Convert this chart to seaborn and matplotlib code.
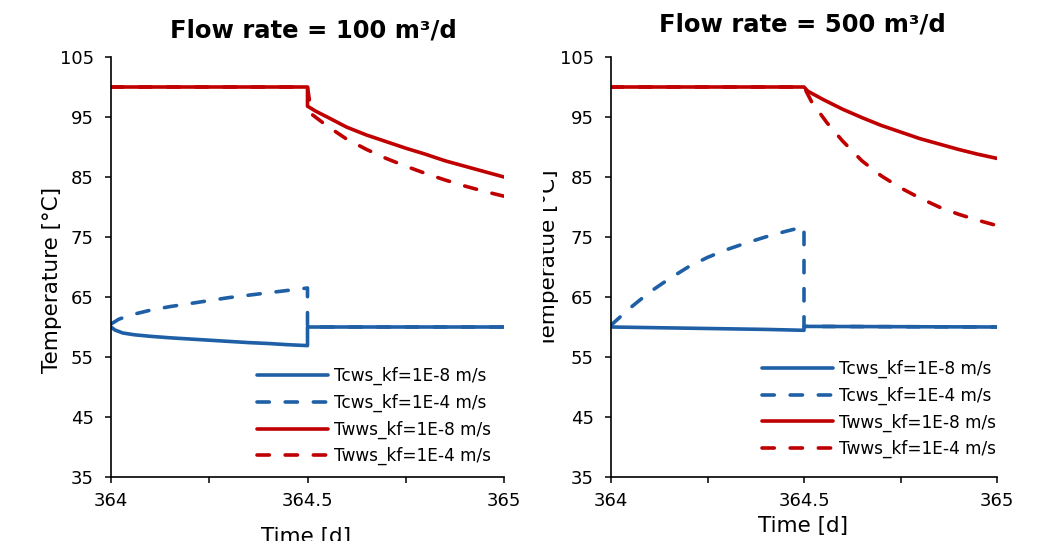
import numpy as np
import pandas as pd
import matplotlib
matplotlib.use("Agg")
import matplotlib.pyplot as plt
import seaborn as sns
from matplotlib.transforms import Bbox, TransformedBbox

# ---------- data ----------
# Flow rate = 100 m3/d
q100_tcws_8_t = [364, 364.01, 364.03, 364.06, 364.1, 364.15, 364.2, 364.25, 364.3, 364.35, 364.4, 364.45, 364.5, 364.5, 365]
q100_tcws_8_v = [60, 59.5, 59.0, 58.7, 58.45, 58.2, 58.0, 57.8, 57.6, 57.4, 57.25, 57.05, 56.9, 60, 60]
q100_tcws_4_t = [364, 364.02, 364.05, 364.1, 364.15, 364.2, 364.25, 364.3, 364.35, 364.4, 364.45, 364.5, 364.5, 365]
q100_tcws_4_v = [60.5, 61.3, 62.0, 62.8, 63.4, 63.9, 64.4, 64.9, 65.3, 65.7, 66.1, 66.5, 60, 60]
q100_twws_8_t = [364, 364.5, 364.5, 364.52, 364.55, 364.6, 364.65, 364.7, 364.75, 364.8, 364.85, 364.9, 364.95, 365]
q100_twws_8_v = [100, 100, 96.8, 96.0, 95.0, 93.3, 92.0, 90.9, 89.8, 88.8, 87.7, 86.8, 85.9, 85.0]
q100_twws_4_t = [364, 364.5, 364.51, 364.55, 364.6, 364.65, 364.7, 364.75, 364.8, 364.85, 364.9, 364.95, 365]
q100_twws_4_v = [100, 100, 95.5, 93.5, 91.3, 89.6, 88.1, 86.8, 85.6, 84.5, 83.5, 82.6, 81.8]

# Flow rate = 500 m3/d
q500_tcws_8_t = [364, 364.1, 364.2, 364.3, 364.4, 364.5, 364.5, 365]
q500_tcws_8_v = [60.0, 59.9, 59.8, 59.7, 59.6, 59.45, 60.1, 60.0]
q500_tcws_4_t = [364, 364.05, 364.1, 364.15, 364.2, 364.25, 364.3, 364.35, 364.4, 364.45, 364.5, 364.5, 365]
q500_tcws_4_v = [60.3, 63.2, 65.8, 68.0, 70.0, 71.6, 72.9, 74.0, 75.0, 75.9, 76.7, 60.1, 60.0]
q500_twws_8_t = [364, 364.5, 364.51, 364.55, 364.6, 364.65, 364.7, 364.75, 364.8, 364.85, 364.9, 364.95, 365]
q500_twws_8_v = [100, 100, 99.3, 97.9, 96.3, 94.9, 93.6, 92.5, 91.4, 90.5, 89.6, 88.8, 88.1]
q500_twws_4_t = [364, 364.5, 364.52, 364.56, 364.6, 364.65, 364.7, 364.75, 364.8, 364.85, 364.9, 364.95, 365]
q500_twws_4_v = [100, 100, 97.5, 94.0, 91.0, 87.7, 85.2, 83.2, 81.5, 80.0, 78.8, 77.8, 76.9]

labels = ["Tcws_kf=1E-8 m/s", "Tcws_kf=1E-4 m/s", "Twws_kf=1E-8 m/s", "Twws_kf=1E-4 m/s"]
titles = ["Flow rate = 100 m³/d", "Flow rate = 500 m³/d"]
ylabels = ["Temperature [°C]", "Temperatue [°C]"]

panels = [
    [(q100_tcws_8_t, q100_tcws_8_v), (q100_tcws_4_t, q100_tcws_4_v),
     (q100_twws_8_t, q100_twws_8_v), (q100_twws_4_t, q100_twws_4_v)],
    [(q500_tcws_8_t, q500_tcws_8_v), (q500_tcws_4_t, q500_tcws_4_v),
     (q500_twws_8_t, q500_twws_8_v), (q500_twws_4_t, q500_twws_4_v)],
]

BLUE = "#1f5fa6"
RED = "#c00000"
colors = [BLUE, BLUE, RED, RED]
dash = (0, (3.4, 4.4))
styles = ["-", dash, "-", dash]

sns.set_style("ticks")
plt.rcParams["font.family"] = ["DejaVu Sans"]
plt.rcParams.update({"text.color": "black", "axes.labelcolor": "black",
                     "xtick.color": "black", "ytick.color": "black"})

fig = plt.figure(figsize=(10.5, 5.41), dpi=100)
ax_rects = [
    [111 / 1050, 64 / 541, 393 / 1050, 420 / 541],
    [611 / 1050, 64 / 541, 386 / 1050, 420 / 541],
]
title_pos = [(0.514, 1.062), (0.497, 1.077)]
xlab_pos = [(0.496, -0.118), (0.497, -0.092)]
ylab_pos = [(-0.125, 0.469), (-0.135, 0.52)]
leg_pos = [(0.371, 0.262), (0.391, 0.279)]

for i, series in enumerate(panels):
    ax = fig.add_axes(ax_rects[i])
    for (t, v), lab, c, ls in zip(series, labels, colors, styles):
        df = pd.DataFrame({"t": t, "v": v})
        sns.lineplot(data=df, x="t", y="v", ax=ax, color=c, linestyle=ls,
                     linewidth=2.6, label=lab, estimator=None, sort=False,
                     dash_capstyle="round", solid_capstyle="round")

    ax.set_xlim(364, 365)
    ax.set_ylim(35, 105)
    ax.set_xticks([364, 364.5, 365])
    ax.set_xticklabels(["364", "364.5", "365"])
    ax.set_xticks([364.25, 364.75], minor=True)
    ax.set_yticks(np.arange(35, 106, 10))
    ax.tick_params(axis="both", which="both", direction="out", length=4.5,
                   width=1.1, labelsize=13)
    ax.tick_params(axis="x", pad=6)
    ax.tick_params(axis="y", pad=8)
    for s in ["top", "right"]:
        ax.spines[s].set_visible(False)
    for s in ["left", "bottom"]:
        ax.spines[s].set_linewidth(1.2)
        ax.spines[s].set_color("black")

    ax.set_xlabel("Time [d]", fontsize=15.5)
    ax.xaxis.set_label_coords(*xlab_pos[i])
    ax.set_ylabel(ylabels[i], fontsize=15.5)
    ax.yaxis.set_label_coords(*ylab_pos[i])

    ax.text(title_pos[i][0], title_pos[i][1], titles[i], transform=ax.transAxes,
            ha="center", va="center", fontsize=17.5, fontweight="bold")

    ax.legend(loc="upper left", bbox_to_anchor=leg_pos[i], frameon=False,
              fontsize=12.2, handlelength=4.2, handletextpad=0.35,
              labelspacing=0.5, borderpad=0, borderaxespad=0)

    if i == 1:
        # the reference crops the left edge of this label
        clip = TransformedBbox(Bbox([[543 / 1050, 0], [1, 1]]), fig.transFigure)
        ax.yaxis.label.set_clip_box(clip)
        ax.yaxis.label.set_clip_on(True)

fig.savefig("out.png", dpi=100)
